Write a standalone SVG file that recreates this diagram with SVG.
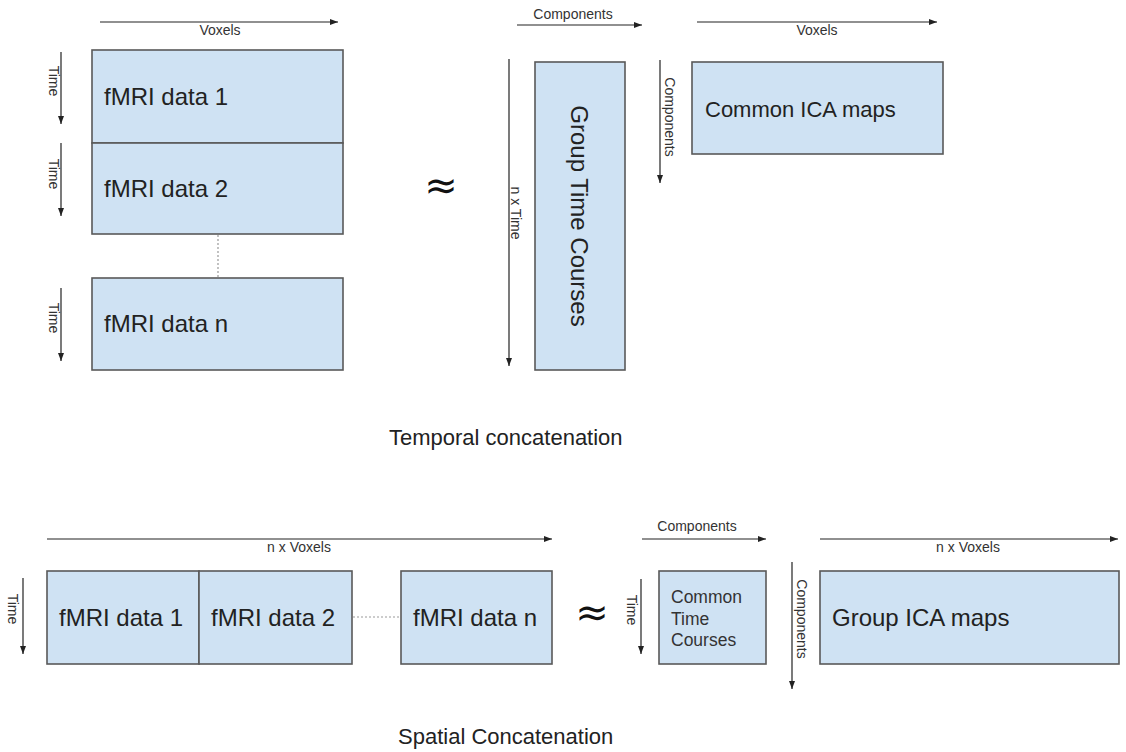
<svg xmlns="http://www.w3.org/2000/svg" width="1126" height="752" viewBox="0 0 1126 752">
<defs>
<marker id="ah" viewBox="0 0 8 6" refX="8" refY="3" markerWidth="8" markerHeight="6" markerUnits="userSpaceOnUse" orient="auto">
<path d="M0,0 L8,3 L0,6 z" fill="#222"/>
</marker>
<style>
.box{fill:#cfe2f3;stroke:#595959;stroke-width:1.6}
.ax{stroke:#222;stroke-width:1.2;fill:none;marker-end:url(#ah)}
.dot{stroke:#999;stroke-width:1.2;stroke-dasharray:2,2;fill:none}
.big{font-family:"Liberation Sans",Arial,sans-serif;font-size:24px;fill:#222}
.mid{font-family:"Liberation Sans",Arial,sans-serif;font-size:22px;fill:#222}
.sm{font-family:"Liberation Sans",Arial,sans-serif;font-size:14px;fill:#333}
.ctc{font-family:"Liberation Sans",Arial,sans-serif;font-size:17.5px;fill:#333}
.approx{font-family:"DejaVu Sans",sans-serif;font-size:40px;fill:#111}
</style>
</defs>
<rect width="1126" height="752" fill="#fff"/>

<g id="connectors">
<line class="ax" x1="100" y1="22" x2="338" y2="22"/>
<line class="ax" x1="61" y1="52" x2="61" y2="124"/>
<line class="ax" x1="61" y1="143" x2="61" y2="216"/>
<line class="ax" x1="61" y1="288" x2="61" y2="361"/>
<line class="dot" x1="218" y1="235" x2="218" y2="277"/>
<line class="ax" x1="517" y1="25" x2="642" y2="25"/>
<line class="ax" x1="509" y1="59" x2="509" y2="366"/>
<line class="ax" x1="697" y1="22" x2="937" y2="22"/>
<line class="ax" x1="660" y1="60" x2="660" y2="183"/>

<line class="ax" x1="47" y1="539" x2="552" y2="539"/>
<line class="ax" x1="23" y1="578" x2="23" y2="654"/>
<line class="dot" x1="353" y1="617" x2="400" y2="617"/>
<line class="ax" x1="642" y1="539" x2="766" y2="539"/>
<line class="ax" x1="641" y1="579" x2="641" y2="654"/>
<line class="ax" x1="792" y1="562" x2="792" y2="689"/>
<line class="ax" x1="820" y1="539" x2="1118" y2="539"/>
</g>

<g id="axis-labels">
<text class="sm" x="220" y="35" text-anchor="middle">Voxels</text>
<text class="sm" transform="translate(49,81) rotate(90)" text-anchor="middle">Time</text>
<text class="sm" transform="translate(49,174) rotate(90)" text-anchor="middle">Time</text>
<text class="sm" transform="translate(49,318) rotate(90)" text-anchor="middle">Time</text>
<text class="sm" x="573" y="19" text-anchor="middle">Components</text>
<text class="sm" transform="translate(511,213) rotate(90)" text-anchor="middle">n x Time</text>
<text class="sm" x="817" y="35" text-anchor="middle">Voxels</text>
<text class="sm" transform="translate(665,117) rotate(90)" text-anchor="middle">Components</text>

<text class="sm" x="299" y="552" text-anchor="middle">n x Voxels</text>
<text class="sm" transform="translate(8,609) rotate(90)" text-anchor="middle">Time</text>
<text class="sm" x="697" y="531" text-anchor="middle">Components</text>
<text class="sm" transform="translate(627,610) rotate(90)" text-anchor="middle">Time</text>
<text class="sm" transform="translate(797,619) rotate(90)" text-anchor="middle">Components</text>
<text class="sm" x="968" y="552" text-anchor="middle">n x Voxels</text>
</g>

<g id="fmri1-top"><rect class="box" x="92" y="50" width="251" height="93"/><text class="big" x="104" y="105">fMRI data 1</text></g>
<g id="fmri2-top"><rect class="box" x="92" y="143" width="251" height="91"/><text class="big" x="104" y="197">fMRI data 2</text></g>
<g id="fmrin-top"><rect class="box" x="92" y="278" width="251" height="92"/><text class="big" x="104" y="332">fMRI data n</text></g>
<g id="approx-top"><text class="approx" x="441" y="199" text-anchor="middle">≈</text></g>
<g id="group-time-courses"><rect class="box" x="535" y="62" width="90" height="308"/><text class="big" transform="translate(571,216) rotate(90)" text-anchor="middle">Group Time Courses</text></g>
<g id="common-ica-maps"><rect class="box" x="692" y="62" width="251" height="92"/><text class="mid" x="705" y="117">Common ICA maps</text></g>
<g id="title-temporal"><text class="mid" x="389" y="445">Temporal concatenation</text></g>

<g id="fmri1-bottom"><rect class="box" x="47" y="571" width="152" height="93"/><text class="big" x="59" y="626">fMRI data 1</text></g>
<g id="fmri2-bottom"><rect class="box" x="199" y="571" width="153" height="93"/><text class="big" x="211" y="626">fMRI data 2</text></g>
<g id="fmrin-bottom"><rect class="box" x="401" y="571" width="151" height="93"/><text class="big" x="413" y="626">fMRI data n</text></g>
<g id="approx-bottom"><text class="approx" x="592" y="626" text-anchor="middle">≈</text></g>
<g id="common-time-courses"><rect class="box" x="659" y="571" width="107" height="93"/><text class="ctc" x="671" y="603">Common</text><text class="ctc" x="671" y="625">Time</text><text class="ctc" x="671" y="646">Courses</text></g>
<g id="group-ica-maps"><rect class="box" x="820" y="571" width="299" height="93"/><text class="big" x="832" y="626">Group ICA maps</text></g>
<g id="title-spatial"><text class="mid" x="398" y="744">Spatial Concatenation</text></g>
</svg>
